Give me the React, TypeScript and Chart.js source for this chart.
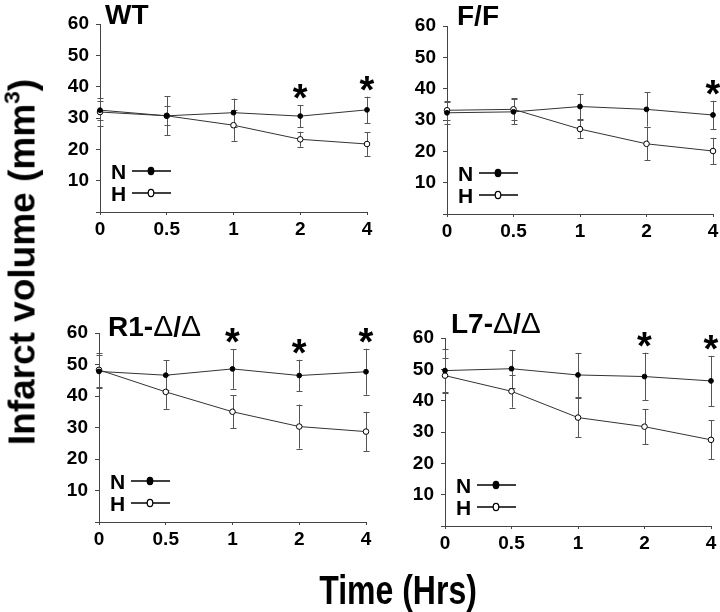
import React, { useEffect, useRef } from 'react';
import { Chart, registerables } from 'chart.js';

Chart.register(...registerables);

const FAMILY = '"Liberation Sans", Arial, Helvetica, sans-serif';

// x categories (time, hours)
const timeLabels = ['0', '0.5', '1', '2', '4'];
// y tick values
const yTickValues = [10, 20, 30, 40, 50, 60];
const yMin = 0;
const yMax = 60;

// WT
const wtN = [32.5, 30.7, 31.7, 30.6, 32.6];
const wtNErr = [3.0, 3.0, 4.5, 3.5, 4.2];
const wtH = [31.9, 30.7, 27.7, 23.2, 21.7];
const wtHErr = [4.4, 6.2, 5.0, 2.4, 3.8];
const wtStars = [false, false, false, true, true];

// F/F
const ffN = [32.3, 32.6, 34.3, 33.4, 31.6];
const ffNErr = [3.5, 4.0, 4.0, 5.5, 4.5];
const ffH = [33.1, 33.4, 27.1, 22.4, 20.1];
const ffHErr = [3.0, 3.5, 3.0, 5.3, 4.2];
const ffStars = [false, false, false, false, true];

// R1-Δ/Δ
const r1N = [47.8, 46.6, 48.6, 46.5, 47.7];
const r1NErr = [5.3, 4.7, 6.3, 5.0, 7.3];
const r1H = [48.3, 41.3, 35.0, 30.3, 28.7];
const r1HErr = [5.3, 5.4, 5.2, 7.0, 6.3];
const r1Stars = [false, false, true, true, true];

// L7-Δ/Δ
const l7N = [49.6, 50.2, 48.2, 47.7, 46.3];
const l7NErr = [6.8, 6.0, 7.0, 7.6, 8.0];
const l7H = [48.0, 43.0, 34.6, 31.7, 27.5];
const l7HErr = [5.6, 5.2, 6.3, 5.6, 6.2];
const l7Stars = [false, false, false, true, true];

const seriesNames = ['N', 'H'];

type PanelProps = {
  area: { l: number; r: number; t: number; b: number };
  n: number[];
  nErr: number[];
  h: number[];
  hErr: number[];
  stars: boolean[];
};

const PAD_L = 70;
const PAD_T = 26;
const PAD_R = 12;
const PAD_B = 45;

function Panel({ area, n, nErr, h, hErr, stars }: PanelProps) {
  const ref = useRef<HTMLCanvasElement | null>(null);
  const width = area.r - area.l + PAD_L + PAD_R;
  const height = area.b - area.t + PAD_T + PAD_B;

  useEffect(() => {
    if (!ref.current) return;
    const errs = [nErr, hErr];

    const errorBars = {
      id: 'errorBars',
      beforeDatasetsDraw(chart: any) {
        const ctx = chart.ctx;
        const xs = chart.scales.x;
        const ys = chart.scales.y;
        ctx.save();
        ctx.strokeStyle = '#555';
        ctx.lineWidth = 1;
        chart.data.datasets.forEach((ds: any, di: number) => {
          ds.data.forEach((v: number, i: number) => {
            const e = errs[di][i];
            const x = Math.round(xs.getPixelForValue(i)) + 0.5;
            const y1 = ys.getPixelForValue(v + e);
            const y2 = ys.getPixelForValue(v - e);
            ctx.beginPath();
            ctx.moveTo(x, y1);
            ctx.lineTo(x, y2);
            ctx.moveTo(x - 3, Math.round(y1) + 0.5);
            ctx.lineTo(x + 3, Math.round(y1) + 0.5);
            ctx.moveTo(x - 3, Math.round(y2) + 0.5);
            ctx.lineTo(x + 3, Math.round(y2) + 0.5);
            ctx.stroke();
          });
        });
        ctx.restore();
      },
    };

    const starsAndLegend = {
      id: 'starsAndLegend',
      afterDraw(chart: any) {
        const ctx = chart.ctx;
        const xs = chart.scales.x;
        const ys = chart.scales.y;
        const ca = chart.chartArea;
        ctx.save();
        // significance stars
        ctx.fillStyle = '#000';
        ctx.font = `bold 38px ${FAMILY}`;
        ctx.textAlign = 'center';
        ctx.textBaseline = 'alphabetic';
        stars.forEach((s, i) => {
          if (!s) return;
          const top = Math.max(n[i] + nErr[i], h[i] + hErr[i]);
          const yTop = ys.getPixelForValue(top);
          ctx.fillText('*', xs.getPixelForValue(i), yTop + 6);
        });
        // legend
        ctx.textAlign = 'left';
        ctx.font = `bold 21px ${FAMILY}`;
        const rows = [ca.bottom - 41, ca.bottom - 19];
        seriesNames.forEach((name, k) => {
          const yy = rows[k];
          ctx.fillStyle = '#000';
          ctx.fillText(name, ca.left + 11, yy + 7.5);
          ctx.strokeStyle = '#000';
          ctx.lineWidth = 1.5;
          ctx.beginPath();
          ctx.moveTo(ca.left + 32, yy);
          ctx.lineTo(ca.left + 71, yy);
          ctx.stroke();
          ctx.beginPath();
          ctx.ellipse(ca.left + 51, yy, 2.8, 3.6, 0, 0, Math.PI * 2);
          ctx.fillStyle = k === 0 ? '#000' : '#fff';
          ctx.fill();
          ctx.lineWidth = 1.2;
          ctx.stroke();
        });
        ctx.restore();
      },
    };

    const chart = new Chart(ref.current, {
      type: 'line',
      data: {
        labels: timeLabels,
        datasets: [
          {
            label: seriesNames[0],
            data: n,
            borderColor: '#333',
            borderWidth: 1,
            pointRadius: 2.4,
            pointBackgroundColor: '#000',
            pointBorderColor: '#000',
            pointBorderWidth: 1,
            tension: 0,
          },
          {
            label: seriesNames[1],
            data: h,
            borderColor: '#333',
            borderWidth: 1,
            pointRadius: 2.8,
            pointBackgroundColor: '#fff',
            pointBorderColor: '#000',
            pointBorderWidth: 1,
            tension: 0,
          },
        ],
      },
      options: {
        responsive: false,
        animation: false,
        devicePixelRatio: 1,
        layout: { padding: { left: 0, top: PAD_T, right: PAD_R, bottom: 0 } },
        plugins: { legend: { display: false }, tooltip: { enabled: false }, title: { display: false } },
        scales: {
          x: {
            type: 'category',
            offset: false,
            afterFit(scale: any) {
              scale.height = PAD_B;
            },
            grid: { display: true, drawOnChartArea: false, drawTicks: true, tickLength: 3, color: '#444' },
            border: { display: true, color: '#444', width: 1 },
            ticks: {
              color: '#000',
              font: { family: FAMILY, size: 19, weight: 'bold' },
              padding: 3,
              maxRotation: 0,
              autoSkip: false,
            },
          },
          y: {
            type: 'linear',
            min: yMin,
            max: yMax,
            afterFit(scale: any) {
              scale.width = PAD_L;
            },
            afterBuildTicks(scale: any) {
              scale.ticks = [{ value: yMin }, ...yTickValues.map((v) => ({ value: v }))];
            },
            grid: { display: true, drawOnChartArea: false, drawTicks: true, tickLength: 4, color: '#444' },
            border: { display: true, color: '#444', width: 1 },
            ticks: {
              color: '#000',
              font: { family: FAMILY, size: 19, weight: 'bold' },
              padding: 7,
              callback: (v: any) => (v === 0 ? '' : String(v)),
            },
          },
        },
      } as any,
      plugins: [errorBars, starsAndLegend],
    });
    return () => chart.destroy();
  }, []);

  return (
    <canvas
      ref={ref}
      width={width}
      height={height}
      style={{
        position: 'absolute',
        left: area.l - PAD_L,
        top: area.t - PAD_T,
        width,
        height,
      }}
    />
  );
}

const titleStyle: React.CSSProperties = {
  position: 'absolute',
  fontFamily: FAMILY,
  fontWeight: 700,
  fontSize: 28,
  lineHeight: '28px',
  whiteSpace: 'nowrap',
  color: '#000',
};

const deltaStyle: React.CSSProperties = { fontWeight: 400, fontSize: 30 };

export default function App() {
  return (
    <div
      style={{
        position: 'fixed',
        left: 0,
        top: 0,
        width: 720,
        height: 612,
        background: '#fff',
        overflow: 'hidden',
      }}
    >
      <Panel area={{ l: 100, r: 367, t: 24, b: 212 }} n={wtN} nErr={wtNErr} h={wtH} hErr={wtHErr} stars={wtStars} />
      <Panel area={{ l: 447, r: 713, t: 26, b: 214 }} n={ffN} nErr={ffNErr} h={ffH} hErr={ffHErr} stars={ffStars} />
      <Panel area={{ l: 99, r: 366, t: 333, b: 522 }} n={r1N} nErr={r1NErr} h={r1H} hErr={r1HErr} stars={r1Stars} />
      <Panel area={{ l: 445, r: 711, t: 338, b: 526 }} n={l7N} nErr={l7NErr} h={l7H} hErr={l7HErr} stars={l7Stars} />

      <div style={{ ...titleStyle, left: 105, top: 1 }}>WT</div>
      <div style={{ ...titleStyle, left: 457, top: 2 }}>F/F</div>
      <div style={{ ...titleStyle, left: 108, top: 312 }}>
        R1-<span style={deltaStyle}>Δ</span>/<span style={deltaStyle}>Δ</span>
      </div>
      <div style={{ ...titleStyle, left: 451, top: 309 }}>
        L7-<span style={deltaStyle}>Δ</span>/<span style={deltaStyle}>Δ</span>
      </div>

      <div
        style={{
          position: 'absolute',
          left: 22,
          top: 262,
          transform: 'translate(-50%, -50%) rotate(-90deg)',
          fontFamily: FAMILY,
          fontWeight: 700,
          fontSize: 37,
          lineHeight: '37px',
          whiteSpace: 'nowrap',
          color: '#000',
        }}
      >
        Infarct volume (mm<span style={{ fontSize: '0.62em', verticalAlign: '0.65em', lineHeight: 0 }}>3</span>)
      </div>

      <div
        style={{
          position: 'absolute',
          left: 398,
          top: 590,
          transform: 'translate(-50%, -50%) scaleX(0.8)',
          fontFamily: FAMILY,
          fontWeight: 700,
          fontSize: 40,
          lineHeight: '40px',
          whiteSpace: 'nowrap',
          color: '#000',
        }}
      >
        Time (Hrs)
      </div>
    </div>
  );
}
